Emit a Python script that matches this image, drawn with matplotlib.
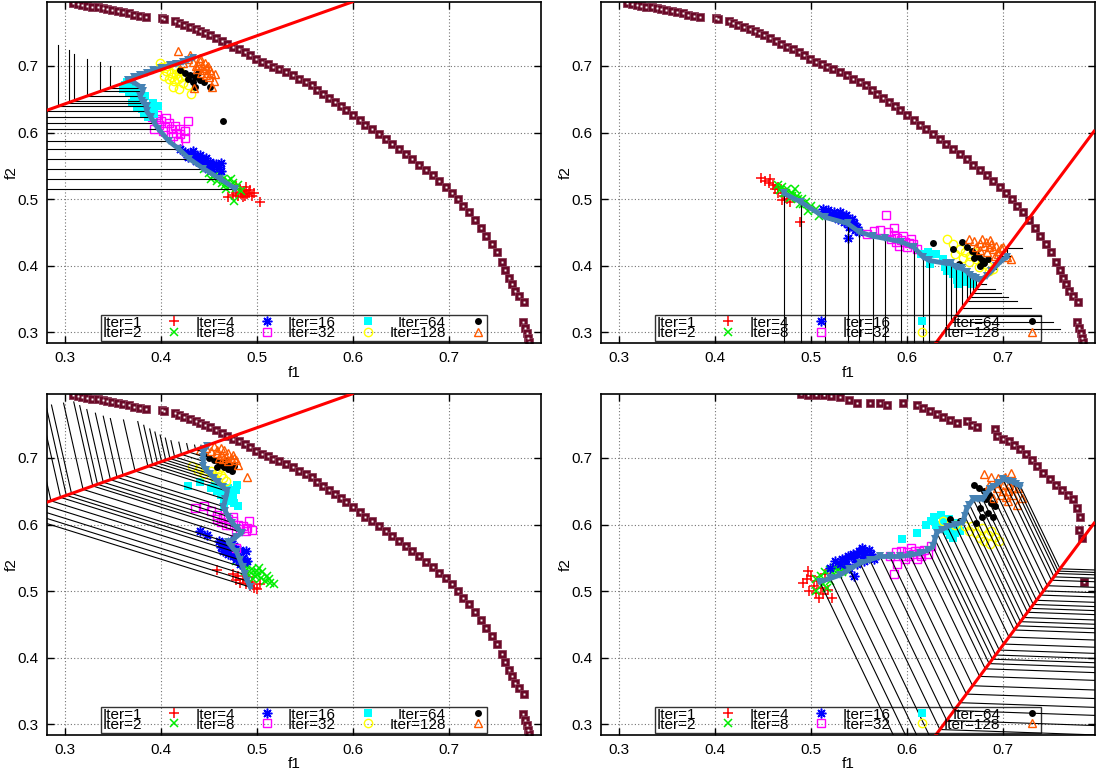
import matplotlib
matplotlib.use("Agg")

import matplotlib.pyplot as plt
import numpy as np

plt.rcParams["font.family"] = ["Liberation Sans", "DejaVu Sans"]

# pareto front used in three panels
front_a = [
    (0.308, 0.794), (0.313, 0.793), (0.318, 0.792), (0.323, 0.790), (0.328, 0.789),
    (0.334, 0.788), (0.339, 0.787), (0.344, 0.786), (0.349, 0.784), (0.355, 0.783),
    (0.360, 0.781), (0.366, 0.779), (0.372, 0.777), (0.378, 0.775), (0.384, 0.773),
    (0.401, 0.772), (0.403, 0.770), (0.414, 0.768), (0.419, 0.765), (0.424, 0.762),
    (0.430, 0.759), (0.436, 0.756), (0.441, 0.753), (0.446, 0.750), (0.451, 0.746),
    (0.457, 0.742), (0.463, 0.738), (0.469, 0.733), (0.475, 0.729), (0.481, 0.725),
    (0.487, 0.721), (0.493, 0.716), (0.499, 0.711), (0.505, 0.706), (0.511, 0.703),
    (0.517, 0.699), (0.523, 0.695), (0.530, 0.691), (0.537, 0.686), (0.544, 0.681),
    (0.551, 0.676), (0.557, 0.671), (0.563, 0.664), (0.569, 0.658), (0.575, 0.652),
    (0.581, 0.646), (0.587, 0.640), (0.593, 0.634), (0.600, 0.626), (0.607, 0.619),
    (0.613, 0.612), (0.620, 0.606), (0.627, 0.598), (0.634, 0.591), (0.641, 0.583),
    (0.648, 0.575), (0.655, 0.568), (0.662, 0.560), (0.669, 0.552), (0.676, 0.544),
    (0.683, 0.536), (0.690, 0.527), (0.697, 0.519), (0.703, 0.510), (0.709, 0.500),
    (0.715, 0.490), (0.721, 0.480), (0.727, 0.469), (0.733, 0.457), (0.739, 0.445),
    (0.745, 0.432), (0.750, 0.420), (0.755, 0.406), (0.759, 0.394), (0.763, 0.382),
    (0.766, 0.372), (0.769, 0.362), (0.773, 0.354), (0.778, 0.346), (0.777, 0.316),
    (0.779, 0.307), (0.781, 0.299), (0.782, 0.291), (0.783, 0.286),
]

# pareto front of the lower right panel
front_b = [
    (0.489, 0.796), (0.497, 0.795), (0.505, 0.794), (0.513, 0.794), (0.521, 0.793),
    (0.530, 0.792), (0.539, 0.787), (0.548, 0.782), (0.561, 0.783), (0.572, 0.783),
    (0.579, 0.779), (0.596, 0.782), (0.610, 0.779), (0.617, 0.775), (0.624, 0.770),
    (0.631, 0.766), (0.638, 0.762), (0.645, 0.757), (0.652, 0.752), (0.662, 0.755),
    (0.668, 0.750), (0.673, 0.747), (0.692, 0.744), (0.694, 0.733), (0.700, 0.729),
    (0.706, 0.725), (0.712, 0.720), (0.718, 0.714), (0.724, 0.706), (0.730, 0.697),
    (0.736, 0.688), (0.742, 0.678), (0.749, 0.668), (0.755, 0.660), (0.762, 0.652),
    (0.768, 0.645), (0.773, 0.638), (0.777, 0.625), (0.780, 0.612), (0.779, 0.592),
    (0.782, 0.580), (0.785, 0.514),
]

# reference direction lines (two end points each)
ref_left = [(0.281, 0.6335), (0.599, 0.796)]
ref_right = [(0.630, 0.284), (0.795, 0.602)]

iters = [1, 2, 4, 8, 16, 32, 64, 128]
colors = ["#ff0000", "#00ee00", "#0000ff", "#ff00ff", "#00ffff", "#ffff00", "#000000", "#ff5a00"]

# --- top left panel ---
tl_pts = {
    1: [(0.478, 0.520), (0.482, 0.515), (0.486, 0.512), (0.490, 0.508), (0.480, 0.505), (0.485, 0.503),
        (0.492, 0.510), (0.497, 0.509), (0.495, 0.505), (0.503, 0.496), (0.475, 0.506), (0.470, 0.503),
        (0.488, 0.518), (0.483, 0.508), (0.487, 0.505), (0.493, 0.514), (0.478, 0.510)],
    2: [(0.445, 0.545), (0.450, 0.540), (0.455, 0.537), (0.460, 0.533), (0.465, 0.530), (0.470, 0.527),
        (0.475, 0.524), (0.458, 0.528), (0.463, 0.524), (0.472, 0.520), (0.478, 0.517), (0.468, 0.515),
        (0.483, 0.512), (0.476, 0.497), (0.452, 0.530), (0.457, 0.540), (0.462, 0.537), (0.467, 0.522),
        (0.480, 0.522), (0.473, 0.530)],
    4: [(0.420, 0.575), (0.425, 0.571), (0.430, 0.568), (0.435, 0.565), (0.438, 0.560), (0.442, 0.557),
        (0.446, 0.553), (0.450, 0.549), (0.455, 0.551), (0.440, 0.566), (0.447, 0.562), (0.453, 0.545),
        (0.462, 0.555), (0.460, 0.548), (0.433, 0.572), (0.428, 0.563), (0.436, 0.558), (0.444, 0.552),
        (0.451, 0.556), (0.457, 0.553), (0.449, 0.545), (0.443, 0.561), (0.462, 0.542)],
    8: [(0.390, 0.623), (0.395, 0.620), (0.400, 0.618), (0.405, 0.622), (0.398, 0.612), (0.404, 0.608),
        (0.410, 0.605), (0.415, 0.600), (0.420, 0.598), (0.412, 0.595), (0.425, 0.592), (0.418, 0.588),
        (0.428, 0.617), (0.393, 0.605), (0.408, 0.614), (0.402, 0.603), (0.414, 0.610), (0.420, 0.605),
        (0.425, 0.603), (0.396, 0.627)],
    16: [(0.360, 0.665), (0.362, 0.672), (0.367, 0.660), (0.372, 0.656), (0.376, 0.650), (0.380, 0.647),
         (0.385, 0.640), (0.388, 0.633), (0.382, 0.628), (0.392, 0.645), (0.397, 0.640), (0.375, 0.638),
         (0.370, 0.645), (0.366, 0.668), (0.378, 0.662), (0.364, 0.676), (0.370, 0.666), (0.383, 0.655),
         (0.390, 0.638), (0.386, 0.623), (0.380, 0.635), (0.393, 0.628)],
    32: [(0.400, 0.698), (0.405, 0.693), (0.410, 0.690), (0.415, 0.688), (0.420, 0.692), (0.403, 0.685),
         (0.408, 0.680), (0.413, 0.677), (0.418, 0.681), (0.423, 0.675), (0.428, 0.672), (0.412, 0.668),
         (0.419, 0.666), (0.431, 0.658), (0.399, 0.705), (0.425, 0.685), (0.406, 0.700), (0.416, 0.696),
         (0.411, 0.684), (0.421, 0.683)],
    64: [(0.420, 0.694), (0.425, 0.690), (0.430, 0.686), (0.428, 0.680), (0.435, 0.683), (0.440, 0.679),
         (0.433, 0.676), (0.445, 0.676), (0.438, 0.690), (0.435, 0.668), (0.451, 0.668), (0.464, 0.617)],
    128: [(0.423, 0.705), (0.428, 0.710), (0.433, 0.706), (0.438, 0.702), (0.443, 0.700), (0.447, 0.697),
          (0.437, 0.695), (0.442, 0.690), (0.447, 0.686), (0.450, 0.683), (0.452, 0.690), (0.455, 0.678),
          (0.418, 0.723), (0.430, 0.716), (0.440, 0.712), (0.434, 0.667), (0.453, 0.668), (0.445, 0.694),
          (0.440, 0.708), (0.446, 0.705), (0.449, 0.700), (0.436, 0.700), (0.451, 0.694), (0.456, 0.688),
          (0.448, 0.690)],
}
tl_path = [
    (0.477, 0.516), (0.461, 0.531), (0.444, 0.546), (0.429, 0.561), (0.418, 0.576), (0.408, 0.587),
    (0.397, 0.606), (0.393, 0.6145), (0.389, 0.6235), (0.385, 0.632), (0.385, 0.6394), (0.382, 0.645),
    (0.380, 0.648), (0.378, 0.655), (0.381, 0.662), (0.380, 0.667), (0.371, 0.676), (0.365, 0.679),
    (0.372, 0.683), (0.378, 0.686), (0.385, 0.690), (0.392, 0.694), (0.400, 0.697), (0.409, 0.701),
    (0.416, 0.703), (0.423, 0.706), (0.428, 0.709), (0.433, 0.712),
]

# --- top right panel ---
tr_pts = {
    1: [(0.448, 0.532), (0.452, 0.528), (0.456, 0.525), (0.460, 0.522), (0.465, 0.519), (0.469, 0.515),
        (0.466, 0.510), (0.472, 0.505), (0.475, 0.500), (0.470, 0.498), (0.488, 0.466), (0.478, 0.495),
        (0.462, 0.515), (0.457, 0.530)],
    2: [(0.465, 0.522), (0.470, 0.518), (0.475, 0.515), (0.480, 0.510), (0.485, 0.505), (0.490, 0.500),
        (0.495, 0.496), (0.500, 0.490), (0.505, 0.485), (0.497, 0.482), (0.508, 0.475), (0.488, 0.493),
        (0.478, 0.502), (0.472, 0.510), (0.483, 0.515), (0.468, 0.514), (0.474, 0.510), (0.480, 0.505),
        (0.486, 0.500), (0.492, 0.492)],
    4: [(0.512, 0.485), (0.518, 0.483), (0.524, 0.480), (0.530, 0.476), (0.535, 0.472), (0.540, 0.468),
        (0.545, 0.464), (0.528, 0.470), (0.534, 0.465), (0.540, 0.458), (0.546, 0.454), (0.550, 0.450),
        (0.538, 0.442), (0.522, 0.474), (0.543, 0.470), (0.515, 0.480), (0.520, 0.478), (0.526, 0.474),
        (0.532, 0.470), (0.537, 0.466), (0.542, 0.462), (0.548, 0.458), (0.536, 0.476), (0.530, 0.480)],
    8: [(0.558, 0.448), (0.566, 0.452), (0.572, 0.454), (0.578, 0.476), (0.586, 0.446), (0.590, 0.442),
        (0.594, 0.438), (0.598, 0.436), (0.602, 0.434), (0.606, 0.432), (0.600, 0.428), (0.592, 0.430),
        (0.583, 0.440), (0.610, 0.425), (0.586, 0.456), (0.580, 0.450), (0.596, 0.444), (0.604, 0.440),
        (0.588, 0.436)],
    16: [(0.615, 0.418), (0.622, 0.420), (0.630, 0.418), (0.624, 0.403), (0.638, 0.410), (0.645, 0.400),
         (0.650, 0.395), (0.648, 0.388), (0.655, 0.385), (0.658, 0.380), (0.663, 0.375), (0.668, 0.372),
         (0.652, 0.378), (0.642, 0.392), (0.660, 0.390), (0.656, 0.392), (0.661, 0.385), (0.666, 0.380),
         (0.653, 0.372), (0.640, 0.398)],
    32: [(0.642, 0.440), (0.648, 0.432), (0.655, 0.425), (0.660, 0.420), (0.666, 0.415), (0.672, 0.410),
         (0.678, 0.405), (0.684, 0.400), (0.690, 0.395), (0.665, 0.405), (0.675, 0.398), (0.658, 0.412),
         (0.685, 0.392), (0.670, 0.420), (0.650, 0.418)],
    64: [(0.627, 0.434), (0.657, 0.436), (0.648, 0.425), (0.663, 0.428), (0.668, 0.422), (0.672, 0.418),
         (0.675, 0.413), (0.678, 0.408), (0.680, 0.404), (0.676, 0.400), (0.654, 0.402), (0.684, 0.410),
         (0.670, 0.412)],
    128: [(0.665, 0.440), (0.670, 0.437), (0.676, 0.434), (0.680, 0.430), (0.685, 0.428), (0.690, 0.425),
          (0.695, 0.422), (0.700, 0.418), (0.704, 0.413), (0.708, 0.410), (0.683, 0.420), (0.692, 0.415),
          (0.676, 0.424), (0.688, 0.432), (0.698, 0.426), (0.672, 0.428), (0.678, 0.440), (0.682, 0.436),
          (0.686, 0.438), (0.693, 0.430), (0.700, 0.428), (0.695, 0.418)],
}
tr_path = [
    (0.472, 0.5086), (0.489, 0.496), (0.514, 0.473), (0.538, 0.4635), (0.550, 0.451), (0.564, 0.4445),
    (0.577, 0.441), (0.594, 0.436), (0.607, 0.428), (0.617, 0.413), (0.623, 0.408), (0.641, 0.4035),
    (0.646, 0.4035), (0.651, 0.398), (0.657, 0.396), (0.663, 0.391), (0.666, 0.386), (0.669, 0.383),
    (0.672, 0.381), (0.676, 0.378), (0.683, 0.385), (0.688, 0.392), (0.693, 0.400), (0.698, 0.407),
    (0.704, 0.413),
]

# --- bottom left panel ---
bl_pts = {
    1: [(0.458, 0.532), (0.475, 0.525), (0.480, 0.522), (0.485, 0.518), (0.490, 0.515), (0.488, 0.510),
        (0.493, 0.508), (0.497, 0.505), (0.500, 0.503), (0.482, 0.512), (0.495, 0.513), (0.503, 0.510),
        (0.478, 0.517), (0.491, 0.521)],
    2: [(0.478, 0.545), (0.485, 0.540), (0.490, 0.537), (0.495, 0.533), (0.500, 0.530), (0.498, 0.523),
        (0.504, 0.520), (0.508, 0.515), (0.513, 0.512), (0.518, 0.510), (0.494, 0.527), (0.487, 0.530),
        (0.502, 0.535), (0.510, 0.522), (0.496, 0.518), (0.505, 0.528), (0.512, 0.518), (0.500, 0.524)],
    4: [(0.440, 0.590), (0.448, 0.585), (0.460, 0.575), (0.465, 0.570), (0.470, 0.565), (0.475, 0.560),
        (0.480, 0.555), (0.485, 0.550), (0.490, 0.545), (0.478, 0.548), (0.470, 0.555), (0.465, 0.560),
        (0.482, 0.540), (0.488, 0.560), (0.473, 0.575), (0.476, 0.568), (0.482, 0.562), (0.468, 0.572),
        (0.486, 0.545), (0.475, 0.552), (0.462, 0.566)],
    8: [(0.435, 0.625), (0.445, 0.628), (0.452, 0.620), (0.458, 0.615), (0.465, 0.612), (0.470, 0.608),
        (0.475, 0.605), (0.480, 0.600), (0.485, 0.598), (0.490, 0.595), (0.495, 0.592), (0.478, 0.590),
        (0.468, 0.600), (0.458, 0.608), (0.478, 0.565), (0.492, 0.605), (0.462, 0.604), (0.472, 0.600),
        (0.482, 0.594), (0.488, 0.590), (0.475, 0.612)],
    16: [(0.428, 0.658), (0.440, 0.664), (0.452, 0.655), (0.458, 0.650), (0.462, 0.645), (0.468, 0.640),
         (0.472, 0.636), (0.476, 0.632), (0.480, 0.628), (0.466, 0.626), (0.456, 0.662), (0.474, 0.648),
         (0.479, 0.660), (0.470, 0.655), (0.464, 0.652), (0.470, 0.645), (0.475, 0.640), (0.478, 0.652),
         (0.466, 0.635)],
    32: [(0.432, 0.688), (0.440, 0.685), (0.446, 0.682), (0.452, 0.680), (0.458, 0.677), (0.462, 0.675),
         (0.465, 0.670), (0.445, 0.676), (0.455, 0.672), (0.468, 0.666), (0.438, 0.680), (0.460, 0.683)],
    64: [(0.445, 0.705), (0.450, 0.700), (0.455, 0.697), (0.460, 0.694), (0.463, 0.690), (0.466, 0.686),
         (0.470, 0.684), (0.474, 0.680), (0.472, 0.690), (0.458, 0.687), (0.468, 0.695), (0.476, 0.688)],
    128: [(0.440, 0.712), (0.447, 0.715), (0.452, 0.710), (0.458, 0.708), (0.463, 0.705), (0.468, 0.702),
          (0.473, 0.700), (0.478, 0.697), (0.460, 0.700), (0.470, 0.695), (0.455, 0.718), (0.466, 0.712),
          (0.475, 0.705), (0.489, 0.671), (0.480, 0.690), (0.462, 0.715), (0.470, 0.708), (0.476, 0.700),
          (0.465, 0.698), (0.458, 0.712)],
}
bl_path = [
    (0.493, 0.506), (0.490, 0.515), (0.487, 0.525), (0.485, 0.536), (0.482, 0.547), (0.479, 0.558),
    (0.474, 0.566), (0.470, 0.573), (0.478, 0.581), (0.484, 0.588), (0.479, 0.595), (0.474, 0.603),
    (0.470, 0.612), (0.467, 0.620), (0.465, 0.627), (0.467, 0.638), (0.469, 0.650), (0.464, 0.657),
    (0.459, 0.664), (0.455, 0.670), (0.451, 0.676), (0.447, 0.682), (0.444, 0.688), (0.444, 0.695),
    (0.444, 0.702), (0.444, 0.709), (0.446, 0.714), (0.448, 0.718),
]

# --- bottom right panel ---
br_pts = {
    1: [(0.492, 0.512), (0.496, 0.518), (0.500, 0.522), (0.503, 0.508), (0.506, 0.515), (0.498, 0.500),
        (0.505, 0.497), (0.510, 0.505), (0.512, 0.495), (0.518, 0.502), (0.522, 0.490), (0.497, 0.530),
        (0.515, 0.525), (0.508, 0.490)],
    2: [(0.505, 0.518), (0.510, 0.522), (0.515, 0.528), (0.520, 0.532), (0.525, 0.535), (0.530, 0.538),
        (0.535, 0.540), (0.512, 0.510), (0.520, 0.515), (0.528, 0.525), (0.540, 0.530), (0.505, 0.500),
        (0.517, 0.505), (0.532, 0.528), (0.522, 0.528), (0.528, 0.532), (0.534, 0.535)],
    4: [(0.520, 0.535), (0.525, 0.545), (0.532, 0.548), (0.538, 0.552), (0.544, 0.555), (0.550, 0.560),
        (0.556, 0.558), (0.562, 0.555), (0.566, 0.548), (0.548, 0.540), (0.555, 0.545), (0.540, 0.535),
        (0.545, 0.522), (0.530, 0.540), (0.560, 0.562), (0.553, 0.565), (0.535, 0.548), (0.542, 0.552),
        (0.548, 0.556), (0.554, 0.552), (0.560, 0.550), (0.536, 0.540), (0.546, 0.548)],
    8: [(0.582, 0.552), (0.588, 0.558), (0.594, 0.560), (0.600, 0.558), (0.606, 0.556), (0.612, 0.560),
        (0.618, 0.562), (0.622, 0.555), (0.610, 0.548), (0.598, 0.548), (0.590, 0.540), (0.586, 0.526),
        (0.604, 0.565), (0.615, 0.552), (0.625, 0.568), (0.596, 0.552), (0.602, 0.552), (0.608, 0.560),
        (0.614, 0.556)],
    16: [(0.595, 0.578), (0.610, 0.588), (0.620, 0.600), (0.628, 0.612), (0.635, 0.615), (0.640, 0.608),
         (0.645, 0.600), (0.650, 0.595), (0.655, 0.590), (0.648, 0.580), (0.642, 0.590), (0.635, 0.598),
         (0.625, 0.605), (0.652, 0.602), (0.645, 0.585), (0.630, 0.600), (0.638, 0.605), (0.644, 0.608),
         (0.650, 0.588), (0.640, 0.595)],
    32: [(0.638, 0.605), (0.650, 0.600), (0.660, 0.598), (0.668, 0.598), (0.672, 0.588), (0.676, 0.580),
         (0.680, 0.575), (0.684, 0.585), (0.688, 0.590), (0.692, 0.582), (0.696, 0.575), (0.678, 0.595),
         (0.686, 0.570), (0.665, 0.590)],
    64: [(0.645, 0.608), (0.655, 0.605), (0.670, 0.660), (0.675, 0.655), (0.680, 0.650), (0.685, 0.645),
         (0.682, 0.638), (0.688, 0.632), (0.692, 0.628), (0.676, 0.625), (0.684, 0.618), (0.690, 0.612),
         (0.672, 0.603), (0.678, 0.612)],
    128: [(0.680, 0.676), (0.688, 0.672), (0.695, 0.670), (0.702, 0.672), (0.708, 0.678), (0.712, 0.665),
          (0.700, 0.660), (0.694, 0.655), (0.705, 0.650), (0.710, 0.645), (0.716, 0.655), (0.720, 0.640),
          (0.698, 0.645), (0.690, 0.640), (0.705, 0.635), (0.715, 0.630), (0.700, 0.650), (0.706, 0.660),
          (0.712, 0.655), (0.694, 0.662), (0.685, 0.660), (0.703, 0.642)],
}
br_path = [
    (0.509, 0.514), (0.520, 0.519), (0.530, 0.524), (0.540, 0.533), (0.551, 0.542), (0.561, 0.547),
    (0.572, 0.552), (0.582, 0.552), (0.593, 0.552), (0.603, 0.554), (0.614, 0.557), (0.622, 0.562),
    (0.627, 0.567), (0.629, 0.578), (0.631, 0.588), (0.636, 0.592), (0.642, 0.597), (0.650, 0.600),
    (0.658, 0.603), (0.660, 0.613), (0.662, 0.623), (0.665, 0.630), (0.669, 0.638), (0.674, 0.638),
    (0.679, 0.638), (0.682, 0.645), (0.686, 0.653), (0.690, 0.657), (0.695, 0.662), (0.700, 0.668),
    (0.705, 0.666), (0.710, 0.664), (0.714, 0.661), (0.718, 0.658),
]

# arm directions of the contour lines (first arm, second arm, length ratio)
arms = {
    "tl": ((-1.0, 0.0), (0.0, 1.0), 1.0),
    "tr": ((0.0, -1.0), (1.0, 0.0), 1.2),
    "bl": ((-1.0, 0.45), (-0.157, 1.0), 0.75),
    "br": ((1.0, -3.0), (1.0, -0.05), 1.5),
}

panels = [
    ("tl", [0.0428, 0.5568, 0.4499, 0.4406], tl_pts, tl_path, front_a, ref_left),
    ("tr", [0.5474, 0.5568, 0.4499, 0.4406], tr_pts, tr_path, front_a, ref_right),
    ("bl", [0.0428, 0.0504, 0.4499, 0.4406], bl_pts, bl_path, front_a, ref_left),
    ("br", [0.5474, 0.0504, 0.4499, 0.4406], br_pts, br_path, front_b, ref_right),
]


def contour(p, d1, d2, k, ref):
    p = np.array(p)
    d1 = np.array(d1)
    d2 = np.array(d2) / np.hypot(*d2)
    a = np.array(ref[0])
    b = np.array(ref[1])
    t, s = np.linalg.solve(np.column_stack([d1, a - b]), a - p)
    c = p + t * d1
    e = c + k * abs(t) * np.hypot(*d1) * d2
    return [p[0], c[0], e[0]], [p[1], c[1], e[1]]


mk = {
    1: dict(marker="+", ms=7, mew=1.1),
    2: dict(marker="x", ms=6, mew=1.1),
    4: dict(marker=(8, 2, 0), ms=7, mew=1.1),
    8: dict(marker="s", ms=6, mew=1.0, mfc="none"),
    16: dict(marker="s", ms=5.5, mew=0),
    32: dict(marker="o", ms=6, mew=1.0, mfc="none"),
    64: dict(marker="o", ms=5, mew=0),
    128: dict(marker="^", ms=6, mew=1.0, mfc="none"),
}

fig = plt.figure(figsize=(10.98, 7.74), dpi=100)

for name, rect, pts, path, front, ref in panels:
    ax = fig.add_axes(rect)
    ax.set_xlim(0.281, 0.796)
    ax.set_ylim(0.284, 0.796)

    fx = [q[0] for q in front]
    fy = [q[1] for q in front]
    ax.plot(fx, fy, ls="none", marker="s", ms=5.5, mew=0.6, mfc="#6b0a28", mec="#8a3a55", zorder=2)
    ax.plot(fx, fy, ls="none", marker="s", ms=1.4, mew=0, mfc="white", zorder=2)

    hs = []
    for it, col in zip(iters, colors):
        xs = [q[0] for q in pts[it]]
        ys = [q[1] for q in pts[it]]
        h, = ax.plot(xs, ys, ls="none", color=col, zorder=3, label=f"Iter={it}", **mk[it])
        hs.append(h)

    d1, d2, k = arms[name]
    for p in path:
        lx, ly = contour(p, d1, d2, k, ref)
        ax.plot(lx, ly, color="black", lw=0.8, zorder=4)

    px = [q[0] for q in path]
    py = [q[1] for q in path]
    ax.plot(px, py, color="#4682b4", lw=3.5, marker="v", ms=6, mew=0, zorder=5)

    ax.plot([ref[0][0], ref[1][0]], [ref[0][1], ref[1][1]], color="#ff0000", lw=2.2, zorder=6)

    ax.set_xticks([0.3, 0.4, 0.5, 0.6, 0.7])
    ax.set_yticks([0.3, 0.4, 0.5, 0.6, 0.7])
    ax.set_xticklabels(["0.3", "0.4", "0.5", "0.6", "0.7"])
    ax.set_yticklabels(["0.3", "0.4", "0.5", "0.6", "0.7"])
    ax.tick_params(direction="in", length=5, width=1, top=True, right=True, labelsize=11, pad=6)
    ax.grid(True, color="0.45", ls=(0, (1, 2)), lw=0.8)
    for sp in ax.spines.values():
        sp.set_linewidth(1.2)
    ax.set_xlabel("f1", fontsize=11)
    ax.set_ylabel("f2", fontsize=11)
    ax.xaxis.set_label_coords(0.5, -0.066)
    ax.yaxis.set_label_coords(-0.058, 0.5)

    leg = ax.legend(handles=hs, ncol=4, loc="lower center", bbox_to_anchor=(0.5, 0.007),
                    borderaxespad=0, markerfirst=False, fontsize=11, labelspacing=-0.25,
                    handlelength=1.0, handletextpad=1.6, columnspacing=0.9, borderpad=0.05,
                    fancybox=False, frameon=True)
    leg.get_frame().set_facecolor("none")
    leg.get_frame().set_edgecolor("black")
    leg.get_frame().set_linewidth(1.0)
    leg.set_zorder(7)

fig.savefig("out.png", dpi=100)
